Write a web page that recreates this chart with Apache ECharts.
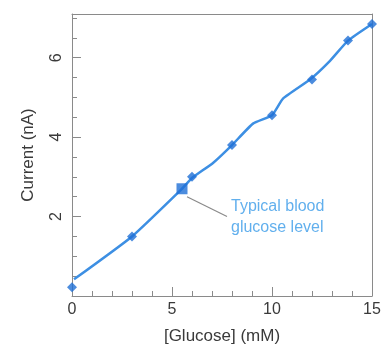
<!DOCTYPE html>
<html>
<head>
<meta charset="utf-8">
<script src="https://cdn.jsdelivr.net/npm/echarts@6/dist/echarts.min.js"></script>
<style>
  html, body { margin: 0; padding: 0; background: #fff; }
  #chart { width: 384px; height: 350px; }
</style>
</head>
<body>
<div id="chart"></div>
<script>
// measured points [glucose mM, current nA]
var glucose = [0, 3, 6, 8, 10, 12, 13.8, 15];
var current = [0.22, 1.5, 3.0, 3.8, 4.55, 5.45, 6.43, 6.85];
// highlighted point (typical blood glucose)
var typical = [5.5, 2.7];
// continuous trace
var traceX = [0.1, 3, 5.5, 6, 7.05, 8, 9.05, 10, 10.55, 11.9, 12.9, 13.8, 15];
var traceY = [0.42, 1.5, 2.7, 2.97, 3.35, 3.8, 4.34, 4.55, 4.97, 5.45, 5.92, 6.43, 6.85];
var xTicks = [0, 5, 10, 15];
var yTicks = [0, 2, 4, 6];
var noteText = 'Typical blood\nglucose level';

var font = 'Liberation Sans';
var blue = '#1f6fd6';
var gray = '#8a8a8a';
var ink = '#3a3a3a';

function pairs(xs, ys) {
  var out = [];
  for (var i = 0; i < xs.length; i++) out.push([xs[i], ys[i]]);
  return out;
}

// plain axis used only for minor ticks / frame lines
function bareAxis(extra) {
  var a = {
    type: 'value',
    axisLine: { show: false, onZero: false },
    axisTick: { show: false },
    axisLabel: { show: false },
    splitLine: { show: false }
  };
  for (var k in extra) a[k] = extra[k];
  return a;
}

var xMax = xTicks[xTicks.length - 1];
var yMax = 7.1;
var line = { show: true, onZero: false, lineStyle: { color: gray, width: 1 } };

var chart = echarts.init(document.getElementById('chart'));
chart.setOption({
  animation: false,
  grid: { left: 72, top: 14, right: 12, bottom: 52 },
  xAxis: [{
    type: 'value', min: xTicks[0], max: xMax, interval: 5, position: 'bottom',
    name: '[Glucose] (mM)', nameLocation: 'middle', nameGap: 32,
    nameTextStyle: { fontFamily: font, fontSize: 17, color: ink },
    axisLine: line,
    axisTick: { show: true, inside: true, length: 9, lineStyle: { color: gray } },
    axisLabel: { fontFamily: font, fontSize: 16, color: ink, margin: 6 },
    splitLine: { show: false }
  },
  bareAxis({ min: xTicks[0], max: xMax, interval: 1, position: 'bottom',
    axisTick: { show: true, inside: true, length: 5, lineStyle: { color: gray } } }),
  bareAxis({ min: xTicks[0], max: xMax, position: 'top', axisLine: line })
  ],
  yAxis: [{
    type: 'value', min: yTicks[0], max: yMax, interval: 2, position: 'left',
    name: 'Current (nA)', nameLocation: 'middle', nameGap: 35,
    nameTextStyle: { fontFamily: font, fontSize: 17, color: ink },
    axisLine: line,
    axisTick: { show: true, inside: true, length: 9, lineStyle: { color: gray } },
    axisLabel: { fontFamily: font, fontSize: 16, color: ink, rotate: 90, margin: 7,
      showMaxLabel: false, showMinLabel: false },
    splitLine: { show: false }
  },
  bareAxis({ min: yTicks[0], max: yMax, interval: 0.5, position: 'left',
    axisTick: { show: true, inside: true, length: 5, lineStyle: { color: gray } } }),
  bareAxis({ min: yTicks[0], max: yMax, position: 'right', axisLine: line })
  ],
  series: [{
    type: 'line',
    data: pairs(traceX, traceY),
    smooth: 0.15,
    showSymbol: false,
    lineStyle: { color: '#3d8fe3', width: 2.5 },
    z: 2
  }, {
    type: 'scatter',
    data: pairs(glucose, current),
    symbol: 'diamond',
    symbolSize: 10,
    itemStyle: { color: blue },
    z: 3
  }, {
    type: 'scatter',
    data: [typical],
    symbol: 'rect',
    symbolSize: 11,
    itemStyle: { color: blue },
    z: 3,
    markLine: {
      silent: true,
      symbol: 'none',
      lineStyle: { color: gray, width: 1.2, type: 'solid' },
      label: { show: false },
      data: [[{ coord: [5.75, 2.5] }, { coord: [7.75, 2.0] }]]
    }
  }, {
    type: 'scatter',
    data: [[7.95, 1.98]],
    symbolSize: 0,
    silent: true,
    label: {
      show: true, position: 'right', distance: 0,
      formatter: noteText,
      fontFamily: font, fontSize: 16, lineHeight: 21, color: '#3a9be8'
    }
  }]
});
</script>
</body>
</html>
